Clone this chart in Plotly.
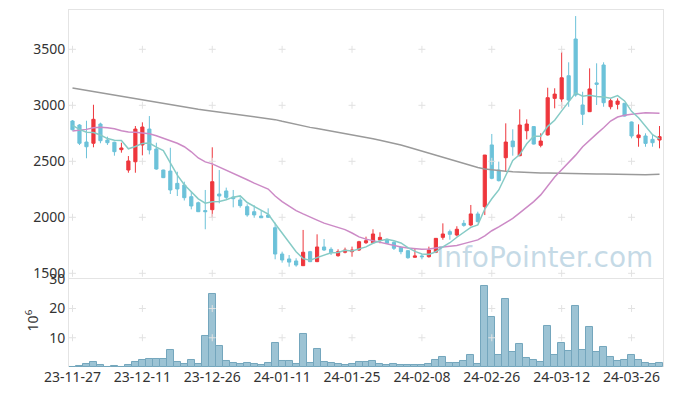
import plotly.graph_objects as go

dates = [
    "23-11-27", "23-11-28", "23-11-29", "23-11-30", "23-12-01",
    "23-12-04", "23-12-05", "23-12-06", "23-12-07", "23-12-08",
    "23-12-11", "23-12-12", "23-12-13", "23-12-14", "23-12-15",
    "23-12-18", "23-12-19", "23-12-20", "23-12-21", "23-12-22",
    "23-12-26", "23-12-27", "23-12-28", "24-01-02", "24-01-03",
    "24-01-04", "24-01-05", "24-01-08", "24-01-09", "24-01-10",
    "24-01-11", "24-01-12", "24-01-15", "24-01-16", "24-01-17",
    "24-01-18", "24-01-19", "24-01-22", "24-01-23", "24-01-24",
    "24-01-25", "24-01-26", "24-01-29", "24-01-30", "24-01-31",
    "24-02-01", "24-02-02", "24-02-05", "24-02-06", "24-02-07",
    "24-02-08", "24-02-13", "24-02-14", "24-02-15", "24-02-16",
    "24-02-19", "24-02-20", "24-02-21", "24-02-22", "24-02-23",
    "24-02-26", "24-02-27", "24-02-28", "24-02-29", "24-03-04",
    "24-03-05", "24-03-06", "24-03-07", "24-03-08", "24-03-11",
    "24-03-12", "24-03-13", "24-03-14", "24-03-15", "24-03-18",
    "24-03-19", "24-03-20", "24-03-21", "24-03-22", "24-03-25",
    "24-03-26", "24-03-27", "24-03-28", "24-03-29", "24-04-01",
]

opens = [
    2860, 2824, 2672, 2661, 2833, 2690, 2670, 2604, 2422, 2496,
    2646, 2788, 2610, 2422, 2413, 2303, 2288, 2184, 2130, 2060,
    2068, 2208, 2235, 2181, 2155, 2095, 2050, 2011, 2020, 1907,
    1672, 1628, 1610, 1568, 1693, 1604, 1735, 1714, 1657, 1688,
    1693, 1708, 1773, 1773, 1797, 1803, 1776, 1732, 1702, 1643,
    1655, 1648, 1688, 1821, 1872, 1842, 1946, 1931, 2030, 2095,
    2646, 2422, 2532, 2681, 2550, 2773, 2810, 2643, 2735, 3062,
    3056, 3264, 3592, 3003, 2943, 3200, 3360, 2987, 3009, 3018,
    2851, 2711, 2726, 2696, 2690,
]
highs = [
    2868, 2832, 2862, 3005, 2845, 2720, 2675, 2666, 2547, 2815,
    2848, 2904, 2666, 2425, 2621, 2407, 2318, 2229, 2140, 2244,
    2625, 2422, 2265, 2244, 2178, 2116, 2107, 2056, 2080, 1952,
    1693, 1663, 1634, 1887, 1700, 1848, 1806, 1732, 1714, 1729,
    1738, 1790, 1827, 1893, 1866, 1810, 1785, 1740, 1705, 1723,
    1670, 1738, 1815, 1946, 1890, 1920, 1975, 2110, 2050, 2556,
    2744, 2497, 2839, 2786, 2964, 2875, 2815, 2750, 3157, 3152,
    3479, 3384, 3797, 3121, 3330, 3375, 3384, 3062, 3062, 3020,
    2855, 2830, 2750, 2744, 2815,
]
lows = [
    2775, 2645, 2527, 2625, 2661, 2646, 2550, 2577, 2398, 2398,
    2553, 2562, 2425, 2350, 2208, 2190, 2150, 2071, 2047, 1893,
    1996, 2125, 2163, 2089, 2086, 2005, 1996, 1996, 1995, 1625,
    1595, 1559, 1559, 1565, 1600, 1600, 1700, 1663, 1648, 1678,
    1648, 1700, 1762, 1768, 1768, 1762, 1708, 1670, 1630, 1640,
    1625, 1640, 1680, 1800, 1800, 1830, 1916, 1920, 1955, 2020,
    2340, 2320, 2413, 2550, 2545, 2696, 2650, 2625, 2730, 2973,
    2973, 2987, 3077, 2824, 2940, 3003, 2987, 2964, 2964, 2900,
    2705, 2630, 2630, 2630, 2616,
]
closes = [
    2782, 2661, 2630, 2875, 2684, 2666, 2586, 2619, 2503, 2788,
    2806, 2601, 2431, 2354, 2244, 2253, 2175, 2101, 2050, 2050,
    2318, 2190, 2178, 2166, 2104, 2021, 2021, 1996, 2000, 1672,
    1619, 1600, 1574, 1688, 1604, 1735, 1708, 1684, 1693, 1708,
    1708, 1782, 1791, 1851, 1821, 1768, 1723, 1693, 1639, 1655,
    1648, 1708, 1812, 1851, 1848, 1893, 1928, 2030, 1961, 2556,
    2348, 2327, 2672, 2630, 2824, 2833, 2654, 2681, 3068, 3100,
    3246, 3047, 3092, 2920, 3146, 3187, 3023, 3041, 3038, 2904,
    2726, 2735, 2660, 2666, 2720,
]

ma5 = [
    2820, 2785, 2760, 2757, 2735, 2703, 2688, 2686, 2612, 2632,
    2660, 2663, 2626, 2596, 2487, 2377, 2291, 2225, 2165, 2126,
    2139, 2142, 2157, 2180, 2191, 2132, 2098, 2062, 2028, 1942,
    1862, 1777, 1693, 1631, 1617, 1640, 1662, 1684, 1685, 1706,
    1700, 1715, 1736, 1768, 1791, 1803, 1791, 1771, 1729, 1696,
    1672, 1669, 1692, 1735, 1773, 1822, 1866, 1910, 1932, 2074,
    2165, 2244, 2373, 2507, 2560, 2657, 2723, 2724, 2812, 2867,
    2950, 3028, 3111, 3081, 3090, 3078, 3074, 3063, 3087, 3039,
    2946, 2889, 2813, 2738, 2701,
]
ma20 = [
    2771, 2775, 2785, 2800, 2805, 2800, 2790, 2772, 2762, 2760,
    2756, 2746, 2728, 2705, 2683, 2661, 2630, 2585, 2530, 2495,
    2477, 2450, 2420, 2392, 2363, 2335, 2305, 2278, 2252, 2190,
    2140, 2100, 2060, 2030, 2000, 1975, 1948, 1930, 1910, 1890,
    1860, 1825, 1805, 1790, 1775, 1760, 1750, 1735, 1725, 1718,
    1714, 1716, 1722, 1734, 1742, 1748, 1765, 1782, 1798, 1835,
    1880, 1915, 1950, 1990, 2040, 2090, 2140, 2200, 2280, 2360,
    2425, 2490, 2555, 2630, 2690, 2745, 2800, 2860, 2895, 2912,
    2920, 2928, 2934, 2932, 2929,
]
ma120 = [
    3155, 3144, 3133, 3122, 3111, 3100, 3090, 3079, 3068, 3057,
    3046, 3035, 3024, 3013, 3002, 2991, 2980, 2972, 2964, 2956,
    2948, 2940, 2932, 2924, 2916, 2908, 2900, 2893, 2886, 2872,
    2857, 2842, 2828, 2815, 2803, 2792, 2781, 2770, 2760, 2750,
    2738, 2726, 2714, 2701, 2688, 2675, 2660, 2645, 2628, 2610,
    2592, 2574, 2555, 2536, 2517, 2498, 2479, 2460, 2445, 2432,
    2424, 2418, 2412, 2407, 2403, 2400, 2398, 2396, 2395, 2393,
    2392, 2391, 2390, 2389, 2388, 2387, 2386, 2384, 2382, 2380,
    2378, 2379, 2380, 2382, 2384,
]

# volume in millions of shares
volume = [
    0.1, 0.5, 1.07, 1.75, 0.73, 0.1, 0.4, 0.1, 0.73, 1.75,
    2.43, 2.77, 2.77, 2.77, 5.82, 1.75, 1.07, 2.43, 1.07, 10.6,
    25.1, 7.2, 2.09, 1.41, 1.07, 1.41, 1.07, 0.73, 1.41, 8.2,
    2.09, 2.09, 1.07, 11.2, 1.41, 6.16, 1.75, 1.3, 1.07, 0.62,
    1.07, 1.75, 1.75, 2.2, 1.07, 0.73, 1.07, 0.73, 0.62, 0.62,
    0.62, 1.07, 2.43, 3.45, 1.41, 1.41, 2.09, 4.12, 1.07, 27.6,
    17.0, 4.12, 23.4, 5.14, 7.85, 3.11, 2.43, 1.75, 13.95, 4.12,
    8.19, 5.48, 20.7, 5.82, 13.6, 5.14, 6.84, 3.45, 2.09, 2.43,
    4.12, 2.43, 1.41, 1.07, 1.41,
]

price_ticks = [1500, 2000, 2500, 3000, 3500]
vol_ticks = [10, 20, 30]
date_tick_idx = list(range(0, 85, 10))
tick_dates = [dates[i] for i in date_tick_idx]

up_color = "#ee363c"
down_color = "#6cc2d9"
font_family = "Noto Sans"
text_color = "#333333"
frame_color = "#e4e4e4"
cross_color = "#e2e2e2"

fig = go.Figure()

# faint "+" marks at grid intersections
fig.add_trace(go.Scatter(
    x=[d for d in tick_dates for _ in price_ticks],
    y=[p for _ in tick_dates for p in price_ticks],
    mode="markers", xaxis="x", yaxis="y", hoverinfo="skip",
    marker=dict(symbol="cross-thin", size=5, color=cross_color,
                line=dict(width=1, color=cross_color)),
))
fig.add_trace(go.Scatter(
    x=[d for d in tick_dates for _ in vol_ticks[:2]],
    y=[v for _ in tick_dates for v in vol_ticks[:2]],
    mode="markers", xaxis="x2", yaxis="y2", hoverinfo="skip",
    marker=dict(symbol="cross-thin", size=5, color=cross_color,
                line=dict(width=1, color=cross_color)),
))

fig.add_trace(go.Candlestick(
    x=dates, open=opens, high=highs, low=lows, close=closes,
    xaxis="x", yaxis="y", whiskerwidth=0,
    increasing=dict(line=dict(color=up_color, width=1), fillcolor=up_color),
    decreasing=dict(line=dict(color=down_color, width=1), fillcolor=down_color),
))

fig.add_trace(go.Scatter(x=dates, y=ma120, mode="lines", xaxis="x", yaxis="y",
                         line=dict(color="#9a9a9a", width=1.5)))
fig.add_trace(go.Scatter(x=dates, y=ma20, mode="lines", xaxis="x", yaxis="y",
                         line=dict(color="#cc8ac6", width=1.5)))
fig.add_trace(go.Scatter(x=dates, y=ma5, mode="lines", xaxis="x", yaxis="y",
                         line=dict(color="#86cbc6", width=1.5)))

fig.add_trace(go.Bar(
    x=dates, y=volume, xaxis="x2", yaxis="y2",
    marker=dict(color="#9cc3d4", line=dict(color="#74a6bd", width=1)),
))

axis_font = dict(family=font_family, size=14, color=text_color)

fig.update_layout(
    width=673, height=396,
    margin=dict(l=69, r=10, t=10, b=29, autoexpand=False),
    paper_bgcolor="white", plot_bgcolor="white",
    showlegend=False,
    boxgap=0.35, bargap=0,
    font=dict(family=font_family, color=text_color),
    xaxis=dict(
        domain=[0, 1], anchor="y", type="category", automargin=False,
        categoryorder="array", categoryarray=dates,
        range=[-0.5, len(dates) - 0.5],
        showticklabels=False, showgrid=False, zeroline=False,
        showline=True, mirror=True, linecolor=frame_color, linewidth=1,
        rangeslider=dict(visible=False), ticks="",
    ),
    yaxis=dict(
        domain=[0.2493, 1], anchor="x", automargin=False,
        range=[1458, 3851], tickvals=price_ticks,
        showgrid=False, zeroline=False,
        showline=True, mirror=True, linecolor=frame_color, linewidth=1,
        tickfont=axis_font, ticks="",
    ),
    xaxis2=dict(
        domain=[0, 1], anchor="y2", type="category", matches="x",
        automargin=False,
        categoryorder="array", categoryarray=dates,
        tickvals=tick_dates, ticktext=tick_dates,
        showgrid=False, zeroline=False, showline=False,
        tickfont=axis_font, ticks="", tickangle=0,
    ),
    yaxis2=dict(
        domain=[0, 0.2465], anchor="x2", automargin=False,
        range=[0, 30.1], tickvals=vol_ticks,
        showgrid=False, zeroline=False,
        showline=True, mirror=True, linecolor=frame_color, linewidth=1,
        tickfont=axis_font, ticks="",
    ),
    annotations=[
        dict(text="10<sup>6</sup>", xref="paper", yref="paper",
             x=-0.062, y=0.131, xanchor="center", yanchor="middle",
             textangle=-90, showarrow=False,
             font=dict(family=font_family, size=14, color=text_color)),
        dict(text="InfoPointer.com", xref="paper", yref="paper",
             x=0.9865, y=0.306, xanchor="right", yanchor="middle",
             showarrow=False,
             font=dict(family="DejaVu Sans", size=28,
                       color="rgba(140,182,206,0.5)")),
    ],
)

fig.write_html("out.html", config={"displayModeBar": False},
               post_script="document.body.style.margin='0';document.body.style.padding='0';")
